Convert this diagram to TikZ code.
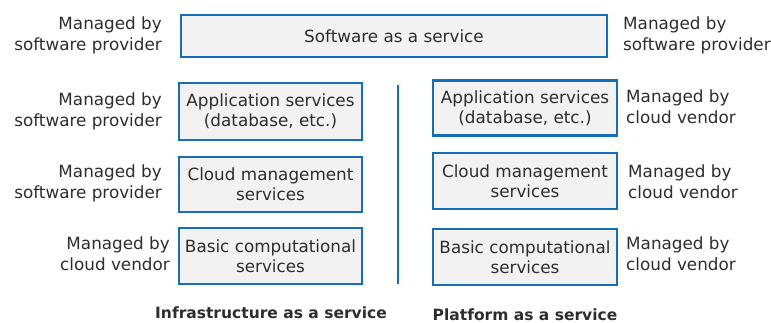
\documentclass[tikz,border=0pt]{standalone}
\usepackage{fontspec}
\setmainfont{DejaVu Sans}
\usepackage{tikz}

\definecolor{boxblue}{RGB}{20,110,185}
\definecolor{boxgray}{RGB}{242,242,242}
\definecolor{txtgray}{RGB}{45,45,45}

\begin{document}
\begin{tikzpicture}[x=1pt,y=-1pt]
    \tikzset{service/.style = {shape=rectangle,draw=boxblue,line width=2.5pt,fill=boxgray,
        text=txtgray,align=center,inner sep=0pt,font=\fontsize{16.8}{20}\selectfont}}
    \tikzset{owner/.style = {text=txtgray,inner sep=0pt,font=\fontsize{16.8}{21}\selectfont}}
    \tikzset{model/.style = {text=txtgray,inner sep=0pt,font=\bfseries\fontsize{15.5}{18}\selectfont}}
    \useasboundingbox (0,0) rectangle (771,323);
    % services
    \node[service,minimum width=426,minimum height=42] (saas) at (394,36) {Software as a service};
    \node[service,minimum width=183,minimum height=57] (iapp) at (270.5,111.5) {Application services\\(database, etc.)};
    \node[service,minimum width=183,minimum height=55] (icloud) at (270.5,184.5) {Cloud management\\services};
    \node[service,minimum width=183,minimum height=56] (ibasic) at (270.5,256) {Basic computational\\services};
    \node[service,minimum width=184,minimum height=55] (papp) at (525,108) {Application services\\(database, etc.)};
    \node[service,minimum width=184,minimum height=56] (pcloud) at (525,181) {Cloud management\\services};
    \node[service,minimum width=184,minimum height=56] (pbasic) at (525,257) {Basic computational\\services};
    % owners
    \node[owner,anchor=east,align=right] (saasl) at (162,35) {Managed by\\software provider};
    \node[owner,anchor=west,align=left] (saasr) at (623,35) {Managed by\\software provider};
    \node[owner,anchor=east,align=right] (iappl) at (162,111) {Managed by\\software provider};
    \node[owner,anchor=east,align=right] (icloudl) at (162,183) {Managed by\\software provider};
    \node[owner,anchor=east,align=right] (ibasicl) at (170,254) {Managed by\\cloud vendor};
    \node[owner,anchor=west,align=left] (pappr) at (626,107) {Managed by\\cloud vendor};
    \node[owner,anchor=west,align=left] (pcloudr) at (628,182) {Managed by\\cloud vendor};
    \node[owner,anchor=west,align=left] (pbasicr) at (626,254) {Managed by\\cloud vendor};
    % models
    \node[model] (iaas) at (271,313) {Infrastructure as a service};
    \node[model] (paas) at (525,315) {Platform as a service};
    % divider
    \coordinate (top) at (398,85);
    \coordinate (bot) at (398,284);
    \draw[boxblue,line width=2pt] (top) -- (bot);
\end{tikzpicture}
\end{document}
